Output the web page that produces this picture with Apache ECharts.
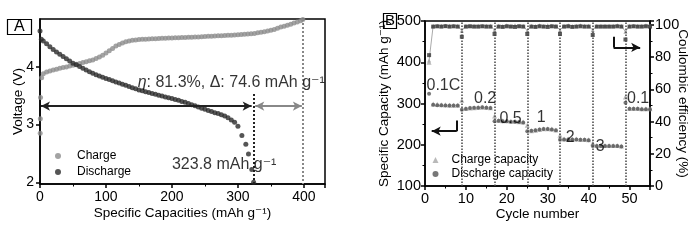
<!DOCTYPE html>
<html><head><meta charset="utf-8">
<script src="https://cdn.jsdelivr.net/npm/echarts@6/dist/echarts.min.js"></script>
<style>html,body{margin:0;padding:0;background:#fff}#c{width:700px;height:240px}</style>
</head><body><div id="c"></div>
<script>
// ---------- Panel A: voltage profiles ----------
const chargeCapA = [0.3,0.5,0.8,2.5,5,10,15,20,25,30,35,40,45,50,55,60,65,70,75,80,85,90,95,100,105,110,115,120,125,130,135,140,145,150,155,160,165,170,175,180,185,190,195,200,205,210,215,220,225,230,235,240,245,250,255,260,265,270,275,280,285,290,295,300,305,310,315,320,325,330,335,340,345,350,355,360,365,370,375,380,385,390,395,398.4];
const chargeVA = [2.85,3.10,3.47,3.81,3.88,3.91,3.93,3.945,3.96,3.975,3.99,4.00,4.015,4.03,4.045,4.06,4.075,4.09,4.105,4.12,4.145,4.17,4.20,4.24,4.28,4.32,4.36,4.39,4.415,4.435,4.45,4.46,4.467,4.473,4.477,4.48,4.483,4.486,4.489,4.492,4.495,4.498,4.50,4.502,4.504,4.506,4.508,4.51,4.512,4.515,4.518,4.52,4.523,4.526,4.529,4.532,4.535,4.538,4.541,4.544,4.547,4.55,4.553,4.556,4.56,4.565,4.57,4.575,4.58,4.59,4.60,4.61,4.62,4.635,4.65,4.67,4.69,4.705,4.72,4.74,4.76,4.78,4.80,4.82];
const dischargeCapA = [0,2,5,10,15,20,25,30,35,40,45,50,55,60,65,70,75,80,85,90,95,100,105,110,115,120,125,130,135,140,145,150,155,160,165,170,175,180,185,190,195,200,205,210,215,220,225,230,235,240,245,250,255,260,265,270,275,280,285,290,295,300,306,312,316,321,323.8];
const dischargeVA = [4.62,4.48,4.45,4.40,4.35,4.30,4.26,4.22,4.18,4.14,4.10,4.065,4.035,4.005,3.975,3.945,3.915,3.89,3.865,3.84,3.82,3.80,3.78,3.76,3.74,3.72,3.70,3.68,3.66,3.64,3.62,3.60,3.585,3.57,3.555,3.54,3.525,3.51,3.495,3.48,3.465,3.45,3.435,3.42,3.40,3.385,3.365,3.345,3.325,3.305,3.285,3.265,3.245,3.225,3.205,3.19,3.17,3.15,3.12,3.08,3.04,2.97,2.81,2.66,2.49,2.22,2.00];
const capDischargeA = 323.8;
const capChargeA = 398.4;
const arrowV = 3.32;
const yTicksA = [2,3,4];
const annotA = [
  {value:[148, 3.72], text:'{i|η}: 81.3%, Δ: 74.6 mAh g⁻¹'},
  {value:[200, 2.30], text:'323.8 mAh g⁻¹'}
];

// ---------- Panel B: rate performance ----------
const cycles = Array.from({length:55}, (_, i) => i + 1);
const chargeB = [400, 299,298,297,297,296,296,296, 308, 288,289,290,291,291,291,290, 270, 259,258,258,257,257,256,255, 247, 234,235,237,239,239,238,236, 223, 214,214,214,214,213,213,212, 204, 198,198,198,198,198,198,197, 316, 288,288,288,287,287,287];
const dischargeB = [323.8, 297,296,296,295,295,295,295, 285, 287,289,290,290,291,290,289, 257, 258,257,257,256,256,255,254, 233, 234,235,237,238,238,237,235, 212, 213,213,213,213,212,212,211, 197, 197,197,197,197,197,197,196, 302, 287,287,287,286,286,286];
const effDark = [81.3, 99,99.2,99,99.3,99,99.2,99, 92.7, 99,99.2,99,99,99.2,99,99, 94.4, 99,98.8,99.2,99,98.8,99.2,99, 94.4, 99,98.8,99.2,99,98.8,99.2,99, 94.4, 99,99.2,98.8,99,99.2,99,99, 93.8, 99,99,99,99,99,99.2,99, 91.0, 99,99.2,99,99,99.2,99];
const effLight = [78, 99.6,99.6,99.6,99.6,99.6,99.6,99.6, 96.4, 99.6,99.6,99.6,99.6,99.6,99.6,99.6, 96.8, 99.6,99.4,99.8,99.4,99.8,99.6,99.6, 96.4, 99.6,99.4,99.8,99.4,99.8,99.6,99.6, 96.8, 99.6,99.8,99.4,99.6,99.8,99.6,99.6, 96.8, 99.6,99.6,99.6,99.6,99.6,99.8,99.6, 95.8, 99.6,99.6,99.6,99.6,99.8,99.6];
const rateChangeCycles = [9,17,25,33,41,49];
const rateLabels = [
  {value:[4.5, 344], text:'0.1C'},
  {value:[14.7, 312], text:'0.2'},
  {value:[20.9, 264], text:'0.5'},
  {value:[28.4, 266], text:'1'},
  {value:[35.5, 218], text:'2'},
  {value:[42.8, 196], text:'3'},
  {value:[52.1, 312], text:'0.1'}
];
const leftArrowB = {x0:7.76, x1:1.64, yTop:259, y:233};
const rightArrowB = {x0:46.1, x1:52.6, yTop:92.7, y:86.1};

const FONT = 'Liberation Sans, Arial, DejaVu Sans, sans-serif';
const pairs = (xs, ys) => xs.map((x, i) => [x, ys[i]]);

function axisBase(extra) {
  return Object.assign({
    type: 'value',
    splitLine: {show: false},
    axisLine: {show: true, onZero: false, lineStyle: {color: '#000', width: 1.5}},
    axisTick: {show: true, inside: false, length: 4, lineStyle: {color: '#000', width: 1.5}},
    minorTick: {show: true, splitNumber: 2, length: 2.5, lineStyle: {color: '#000', width: 1}},
    axisLabel: {color: '#000', fontSize: 14, fontFamily: FONT, margin: 5},
    nameLocation: 'middle',
    nameMoveOverlap: false,
    nameTextStyle: {color: '#000', fontSize: 13.5, fontFamily: FONT}
  }, extra);
}
const keepMult = m => v => (Math.abs(v / m - Math.round(v / m)) < 1e-6 ? String(v) : '');

const option = {
  animation: false,
  title: [
    {text: 'A', left: 7, top: 19, padding: [0, 7, 0, 7], borderWidth: 1.2, borderColor: '#000',
     textStyle: {fontSize: 16, fontWeight: 'normal', fontFamily: FONT, color: '#000', lineHeight: 16}},
    {text: 'B', left: 383, top: 14, padding: [0, 2, 0, 2], borderWidth: 1.2, borderColor: '#000',
     textStyle: {fontSize: 15, fontWeight: 'normal', fontFamily: FONT, color: '#000', lineHeight: 14}}
  ],
  grid: [
    {left: 40, right: 375, top: 19, bottom: 56, show: true, borderColor: '#000', borderWidth: 1.5},
    {left: 425, right: 50, top: 21, bottom: 54, show: true, borderColor: '#000', borderWidth: 1.5}
  ],
  legend: [
    {data: [{name: 'Charge', icon: 'circle'}, {name: 'Discharge', icon: 'circle'}], orient: 'vertical',
     left: 50, top: 144, padding: 5, itemWidth: 6, itemHeight: 6, itemGap: 2,
     textStyle: {fontSize: 12, fontFamily: FONT, color: '#000', lineHeight: 14, padding: [0, 0, 0, 11]}},
    {data: [{name: 'Charge capacity', icon: 'triangle'}, {name: 'Discharge capacity', icon: 'circle'}],
     orient: 'vertical', left: 429.5, top: 150, itemWidth: 6, itemHeight: 6, itemGap: 0,
     padding: [3, 2, 3, 3], backgroundColor: '#fff',
     textStyle: {fontSize: 12, fontFamily: FONT, color: '#000', lineHeight: 14, padding: [0, 0, 0, 8]}}
  ],
  xAxis: [
    axisBase({gridIndex: 0, min: 0, max: 432, interval: 100, name: 'Specific Capacities (mAh g⁻¹)', nameGap: 22,
      axisLabel: {color: '#000', fontSize: 14, fontFamily: FONT, margin: 6, formatter: keepMult(100)}}),
    axisBase({gridIndex: 1, min: 0, max: 55, interval: 10, name: 'Cycle number', nameGap: 21,
      axisLabel: {color: '#000', fontSize: 14.5, fontFamily: FONT, margin: 5, formatter: keepMult(10)}})
  ],
  yAxis: [
    axisBase({gridIndex: 0, min: 1.97, max: 4.83, name: 'Voltage (V)', nameGap: 15,
      minorTick: {show: false},
      axisTick: {show: true, inside: false, length: 4, lineStyle: {color: '#000', width: 1.5}, customValues: yTicksA},
      axisLabel: {color: '#000', fontSize: 14, fontFamily: FONT, margin: 6, customValues: yTicksA}}),
    axisBase({gridIndex: 1, min: 100, max: 500, interval: 100, name: 'Specific Capacity (mAh g⁻¹)', nameGap: 34,
      axisLabel: {color: '#000', fontSize: 14.5, fontFamily: FONT, margin: 4, formatter: keepMult(100)}}),
    axisBase({gridIndex: 1, position: 'right', min: 0, max: 102.5, interval: 20, name: 'Coulombic efficiency (%)',
      nameGap: 26, nameRotate: -90,
      axisLabel: {color: '#000', fontSize: 14.5, fontFamily: FONT, margin: 5, formatter: keepMult(20)}})
  ],
  series: [
    // ---- Panel A ----
    {name: 'Charge', type: 'scatter', xAxisIndex: 0, yAxisIndex: 0, symbolSize: 5,
     itemStyle: {color: '#8c8c8c'}, data: pairs(chargeCapA, chargeVA), z: 3},
    {name: 'Discharge', type: 'scatter', xAxisIndex: 0, yAxisIndex: 0, symbolSize: 5,
     itemStyle: {color: '#2b2b2b'}, data: pairs(dischargeCapA, dischargeVA), z: 4},
    {name: 'guidesA', type: 'line', xAxisIndex: 0, yAxisIndex: 0, data: [], silent: true,
     markLine: {silent: true, animation: false, label: {show: false}, symbol: 'none',
       data: [
         [{coord: [capDischargeA, 3.53], lineStyle: {color: '#222', width: 2, type: 'dotted'}}, {coord: [capDischargeA, 1.97]}],
         [{coord: [capChargeA, 4.83], lineStyle: {color: '#888', width: 2, type: 'dotted'}}, {coord: [capChargeA, 1.97]}]
       ]}},
    {name: 'arrowsA', type: 'line', xAxisIndex: 0, yAxisIndex: 0, data: [], silent: true,
     markLine: {silent: true, animation: false, label: {show: false}, symbol: ['arrow', 'arrow'], symbolSize: [7, 9],
       data: [
         [{coord: [1.5, arrowV], lineStyle: {color: '#222', width: 2, type: 'solid'}, itemStyle: {color: '#222'}}, {coord: [capDischargeA - 3, arrowV]}],
         [{coord: [capDischargeA + 2.5, arrowV], lineStyle: {color: '#888', width: 2, type: 'solid'}, itemStyle: {color: '#888'}}, {coord: [capChargeA - 1.5, arrowV]}]
       ]}},
    {name: 'textA', type: 'scatter', xAxisIndex: 0, yAxisIndex: 0, symbolSize: 0, silent: true, z: 6,
     data: annotA.map(a => ({value: a.value, name: a.text})),
     label: {show: true, position: [0, 0], align: 'left', verticalAlign: 'middle', color: '#000',
       fontSize: 16, fontFamily: FONT, formatter: p => p.name,
       rich: {i: {fontStyle: 'italic', fontSize: 16, fontFamily: FONT, color: '#000'}}}},
    // ---- Panel B ----
    {name: 'rateLines', type: 'line', xAxisIndex: 1, yAxisIndex: 1, data: [], silent: true,
     markLine: {silent: true, animation: false, label: {show: false}, symbol: 'none',
       lineStyle: {color: '#444', width: 1.5, type: 'dotted'},
       data: rateChangeCycles.map(c => ({xAxis: c}))}},
    {name: 'effLight', type: 'line', xAxisIndex: 1, yAxisIndex: 2, data: pairs(cycles, effLight),
     symbol: 'triangle', symbolSize: 4, showSymbol: true, lineStyle: {color: '#aaa', width: 1},
     itemStyle: {color: '#aaa'}, z: 3},
    {name: 'effDark', type: 'scatter', xAxisIndex: 1, yAxisIndex: 2, data: pairs(cycles, effDark),
     symbol: 'rect', symbolSize: 4, itemStyle: {color: '#333'}, z: 4},
    {name: 'Charge capacity', type: 'scatter', xAxisIndex: 1, yAxisIndex: 1, data: pairs(cycles, chargeB),
     symbol: 'triangle', symbolSize: 5, itemStyle: {color: '#a8a8a8'}, z: 3},
    {name: 'Discharge capacity', type: 'scatter', xAxisIndex: 1, yAxisIndex: 1, data: pairs(cycles, dischargeB),
     symbol: 'circle', symbolSize: 4, itemStyle: {color: '#555'}, z: 4},
    {name: 'arrowBL', type: 'line', xAxisIndex: 1, yAxisIndex: 1, data: [], silent: true,
     markLine: {silent: true, animation: false, label: {show: false}, symbolSize: [7, 9],
       lineStyle: {color: '#111', width: 2, type: 'solid'}, itemStyle: {color: '#111'},
       data: [
         [{coord: [leftArrowB.x0, leftArrowB.yTop], symbol: 'none'}, {coord: [leftArrowB.x0, leftArrowB.y], symbol: 'none'}],
         [{coord: [leftArrowB.x0, leftArrowB.y], symbol: 'none'}, {coord: [leftArrowB.x1, leftArrowB.y], symbol: 'arrow'}]
       ]}},
    {name: 'arrowBR', type: 'line', xAxisIndex: 1, yAxisIndex: 2, data: [], silent: true,
     markLine: {silent: true, animation: false, label: {show: false}, symbolSize: [7, 9],
       lineStyle: {color: '#111', width: 2, type: 'solid'}, itemStyle: {color: '#111'},
       data: [
         [{coord: [rightArrowB.x0, rightArrowB.yTop], symbol: 'none'}, {coord: [rightArrowB.x0, rightArrowB.y], symbol: 'none'}],
         [{coord: [rightArrowB.x0, rightArrowB.y], symbol: 'none'}, {coord: [rightArrowB.x1, rightArrowB.y], symbol: 'arrow'}]
       ]}},
    {name: 'rateText', type: 'scatter', xAxisIndex: 1, yAxisIndex: 1, symbolSize: 0, silent: true, z: 6,
     data: rateLabels.map(a => ({value: a.value, name: a.text})),
     label: {show: true, position: 'inside', align: 'center', verticalAlign: 'middle', color: '#000',
       fontSize: 16, fontFamily: FONT, formatter: p => p.name}}
  ]
};
const chart = echarts.init(document.getElementById('c'), null, {renderer: 'canvas'});
chart.setOption(option);
</script></body></html>
